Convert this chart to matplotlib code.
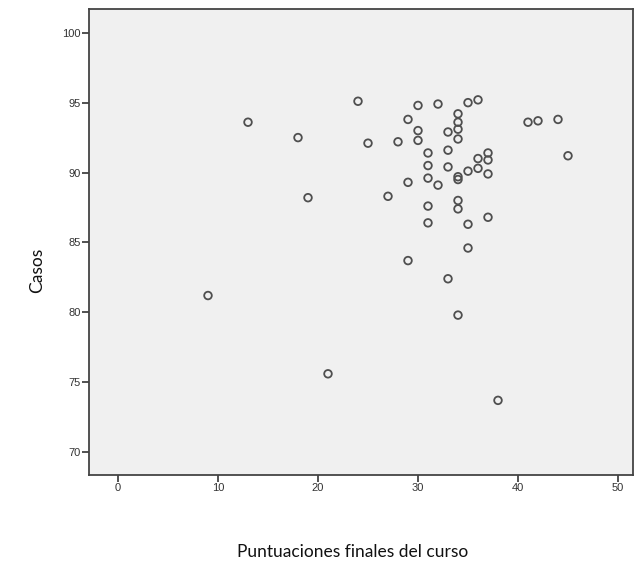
import numpy as np
import matplotlib
matplotlib.use("Agg")
import matplotlib.pyplot as plt

# puntuaciones finales (x) vs casos (y)
puntuaciones = [9, 13, 18, 19, 21, 24, 25, 27, 28,
                29, 29, 29, 30, 30, 30,
                31, 31, 31, 31, 31, 32, 32,
                33, 33, 33, 33,
                34, 34, 34, 34, 34, 34, 34, 34, 34,
                35, 35, 35, 35, 36, 36, 36,
                37, 37, 37, 37, 38, 41, 42, 44, 45]
casos = [81.2, 93.6, 92.5, 88.2, 75.6, 95.1, 92.1, 88.3, 92.2,
         93.8, 89.3, 83.7, 94.8, 93.0, 92.3,
         91.4, 90.5, 89.6, 87.6, 86.4, 94.9, 89.1,
         92.9, 91.6, 90.4, 82.4,
         94.2, 93.6, 93.1, 92.4, 89.7, 89.5, 88.0, 87.4, 79.8,
         95.0, 90.1, 86.3, 84.6, 95.2, 91.0, 90.3,
         91.4, 90.9, 89.9, 86.8, 73.7, 93.6, 93.7, 93.8, 91.2]

xticks = [0, 10, 20, 30, 40, 50]
yticks = [70, 75, 80, 85, 90, 95, 100]

fig = plt.figure(figsize=(6.37, 5.78), dpi=100)
ax = fig.add_axes([89/637, 1-475/578, 544/637, 466/578])
ax.set_facecolor('#f0f0f0')

ax.scatter(puntuaciones, casos, s=30, facecolors='none', edgecolors='#4f4f4f', linewidths=1.3)

ax.set_xlim(-2.9, 51.5)
ax.set_ylim(68.36, 101.7)
ax.set_xticks(xticks)
ax.set_yticks(yticks)
ax.tick_params(direction='out', length=5, width=1.2, color='#333333',
               labelsize=8, labelcolor='#333333', pad=1)
for lab in ax.get_xticklabels() + ax.get_yticklabels():
    lab.set_family('Liberation Sans')
for sp in ax.spines.values():
    sp.set_color('#444444')
    sp.set_linewidth(1.3)

ax.set_xlabel('Puntuaciones finales del curso', fontsize=12.5, family='Lato', color='#111111')
ax.set_ylabel('Casos', fontsize=12.5, family='Lato', color='#111111')
ax.xaxis.set_label_coords(0.485, -0.165)
ax.yaxis.set_label_coords(-0.0956, 0.44)
ax.xaxis.label.set_va('center')
ax.yaxis.label.set_va('center')

fig.savefig('out.png', dpi=100, facecolor='white')
